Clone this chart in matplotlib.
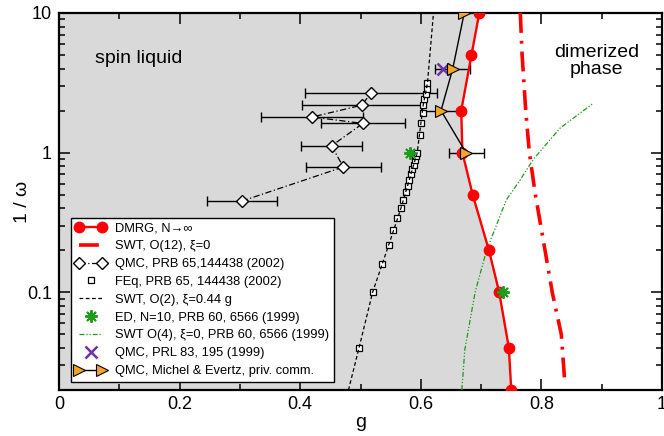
import matplotlib
matplotlib.use('Agg')
import matplotlib.pyplot as plt
import numpy as np
from matplotlib.ticker import MultipleLocator, FuncFormatter, LogLocator, NullFormatter
from matplotlib.legend_handler import HandlerLine2D

plt.rcParams['font.family'] = ['Liberation Sans', 'DejaVu Sans']

# DMRG, N -> inf (phase boundary)
dmrg_inv_w = [10, 5, 2, 1, 0.5, 0.2, 0.1, 0.04, 0.02]
dmrg_g = [0.697, 0.684, 0.667, 0.669, 0.686, 0.713, 0.730, 0.746, 0.750]

# SWT O(12), xi=0
swt12_inv_w = [10, 5, 2, 1, 0.5, 0.2, 0.1, 0.05, 0.022]
swt12_g = [0.765, 0.768, 0.774, 0.780, 0.790, 0.806, 0.818, 0.833, 0.839]

# QMC, PRB 65,144438 (2002)
qmc65_inv_w = [0.45, 0.79, 1.12, 1.62, 1.80, 2.19, 2.69]
qmc65_g = [0.303, 0.4715, 0.452, 0.504, 0.4196, 0.5025, 0.5174]
qmc65_err = [0.058, 0.062, 0.05, 0.069, 0.084, 0.10, 0.11]

# FEq, PRB 65, 144438 (2002)
feq_inv_w = [0.04, 0.10, 0.16, 0.22, 0.28, 0.34, 0.40, 0.46, 0.52, 0.58, 0.64,
             0.70, 0.76, 0.82, 0.88, 0.94, 1.00, 1.34, 1.64, 1.91, 2.19, 2.42,
             2.63, 2.84, 3.14]
feq_g = [0.4975, 0.520, 0.535, 0.547, 0.554, 0.561, 0.567, 0.571, 0.575, 0.578,
         0.581, 0.584, 0.586, 0.588, 0.590, 0.592, 0.594, 0.598, 0.601, 0.603,
         0.604, 0.606, 0.608, 0.610, 0.611]

# SWT, O(2), xi=0.44 g
swt2_inv_w = [0.02, 0.04, 0.1, 0.22, 0.4, 0.64, 1.0, 2.2, 3.14, 10]
swt2_g = [0.480, 0.4975, 0.520, 0.547, 0.567, 0.581, 0.594, 0.604, 0.611, 0.621]

# ED, N=10
ed_inv_w = [1.0, 0.1]
ed_g = [0.582, 0.736]

# SWT O(4), xi=0
swt4_inv_w = [0.02, 0.039, 0.1, 0.2, 0.46, 0.64, 0.89, 1.5, 2.26]
swt4_g = [0.668, 0.673, 0.690, 0.709, 0.742, 0.765, 0.786, 0.831, 0.886]

# QMC, PRL 83, 195 (1999)
prl_inv_w = [4.0]
prl_g = [0.637]

# QMC, Michel & Evertz
me_inv_w = [10, 4, 2, 1]
me_g = [0.672, 0.653, 0.6335, 0.675]
me_err = [0.0, 0.029, 0.033, 0.029]

fig = plt.figure(figsize=(6.64, 4.36), dpi=100)
ax = fig.add_axes([0.0889, 0.1055, 0.9081, 0.8647])

ax.fill_betweenx(dmrg_inv_w, 0, dmrg_g, color='#d9d9d9', lw=0, zorder=0)

h_dmrg, = ax.plot(dmrg_g, dmrg_inv_w, '-o', color='#ff0000', lw=1.7, ms=7.5, zorder=5,
                  label='DMRG, N→∞')
h_swt12, = ax.plot(swt12_g, swt12_inv_w, color='#ff0000', lw=2.6, dashes=(5.5, 2.2, 0.8, 2.2),
                   zorder=4, label='SWT, O(12), ξ=0')

ax.errorbar(qmc65_g, qmc65_inv_w, xerr=qmc65_err, fmt='none', ecolor='k', elinewidth=1,
            capsize=3.5, capthick=1, zorder=2)
h_qmc65, = ax.plot(qmc65_g, qmc65_inv_w, color='k', lw=0.9, dashes=(5, 2, 1, 2), marker='D',
                   ms=6.5, mfc='white', mec='k', mew=1, zorder=6,
                   label='QMC, PRB 65,144438 (2002)')

h_feq, = ax.plot(feq_g, feq_inv_w, 's', ms=5, mfc='white', mec='k', mew=0.9, zorder=5,
                 label='FEq, PRB 65, 144438 (2002)')
h_swt2, = ax.plot(swt2_g, swt2_inv_w, color='k', lw=0.9, dashes=(3, 2), zorder=6,
                  label='SWT, O(2), ξ=0.44 g')

h_ed, = ax.plot(ed_g, ed_inv_w, ls='none', marker=(8, 2, 0), ms=9, mec='#1e9c1e', mew=1.4,
                zorder=7, label='ED, N=10, PRB 60, 6566 (1999)')
h_swt4, = ax.plot(swt4_g, swt4_inv_w, color='#1a9a1a', lw=0.9,
                  dashes=(4, 1.5, 1, 1.5, 1, 1.5), zorder=3,
                  label='SWT O(4), ξ=0, PRB 60, 6566 (1999)')

h_prl, = ax.plot(prl_g, prl_inv_w, ls='none', marker='x', ms=9, mec='#7030b0', mew=1.8,
                 zorder=7, label='QMC, PRL 83, 195 (1999)')

ax.errorbar(me_g[1:], me_inv_w[1:], xerr=me_err[1:], fmt='none', ecolor='k', elinewidth=1,
            capsize=3.5, capthick=1, zorder=2)
h_me, = ax.plot(me_g, me_inv_w, '-', color='k', lw=1, marker='>', ms=9, mfc='#f5a623',
                mec='k', mew=0.8, zorder=8, label='QMC, Michel & Evertz, priv. comm.')

ax.set_yscale('log')
ax.set_xlim(0, 1)
ax.set_ylim(0.02, 10)
ax.set_facecolor('white')

ax.xaxis.set_major_locator(MultipleLocator(0.2))
ax.xaxis.set_minor_locator(MultipleLocator(0.1))
ax.xaxis.set_major_formatter(FuncFormatter(lambda v, p: '%g' % round(v, 3)))
ax.yaxis.set_major_locator(LogLocator(base=10, numticks=10))
ax.yaxis.set_minor_locator(LogLocator(base=10, subs=np.arange(2, 10), numticks=20))
ax.yaxis.set_major_formatter(FuncFormatter(lambda v, p: '%g' % v))
ax.yaxis.set_minor_formatter(NullFormatter())

ax.tick_params(which='both', direction='in', top=True, right=True, width=1.1, labelsize=13)
ax.tick_params(which='major', length=8)
ax.tick_params(axis='x', which='major', pad=4)
ax.tick_params(axis='y', which='major', pad=5)
ax.tick_params(which='minor', length=4)
for s in ax.spines.values():
    s.set_linewidth(1.6)

ax.set_xlabel('g', fontsize=14, labelpad=1)
ax.set_ylabel('1 / ω', fontsize=14)
ax.yaxis.set_label_coords(-0.046, 0.5)

ax.text(0.132, 0.878, 'spin liquid', transform=ax.transAxes, fontsize=14,
        ha='center', va='center')
ax.text(0.892, 0.873, 'dimerized\nphase', transform=ax.transAxes, fontsize=14,
        ha='center', va='center', linespacing=1.0)

handles = [h_dmrg, h_swt12, h_qmc65, h_feq, h_swt2, h_ed, h_swt4, h_prl, h_me]
one = HandlerLine2D(numpoints=1)
leg = ax.legend(handles=handles, loc='lower left', bbox_to_anchor=(0.0194, 0.022),
                borderaxespad=0, fontsize=9.3, numpoints=2, fancybox=False,
                framealpha=1, edgecolor='k', handlelength=2.4, handletextpad=0.7,
                labelspacing=0.45, borderpad=0.35,
                handler_map={h_feq: one, h_ed: one, h_prl: one})
leg.get_frame().set_linewidth(1.0)
leg.set_zorder(10)

fig.savefig('out.png', dpi=100)
